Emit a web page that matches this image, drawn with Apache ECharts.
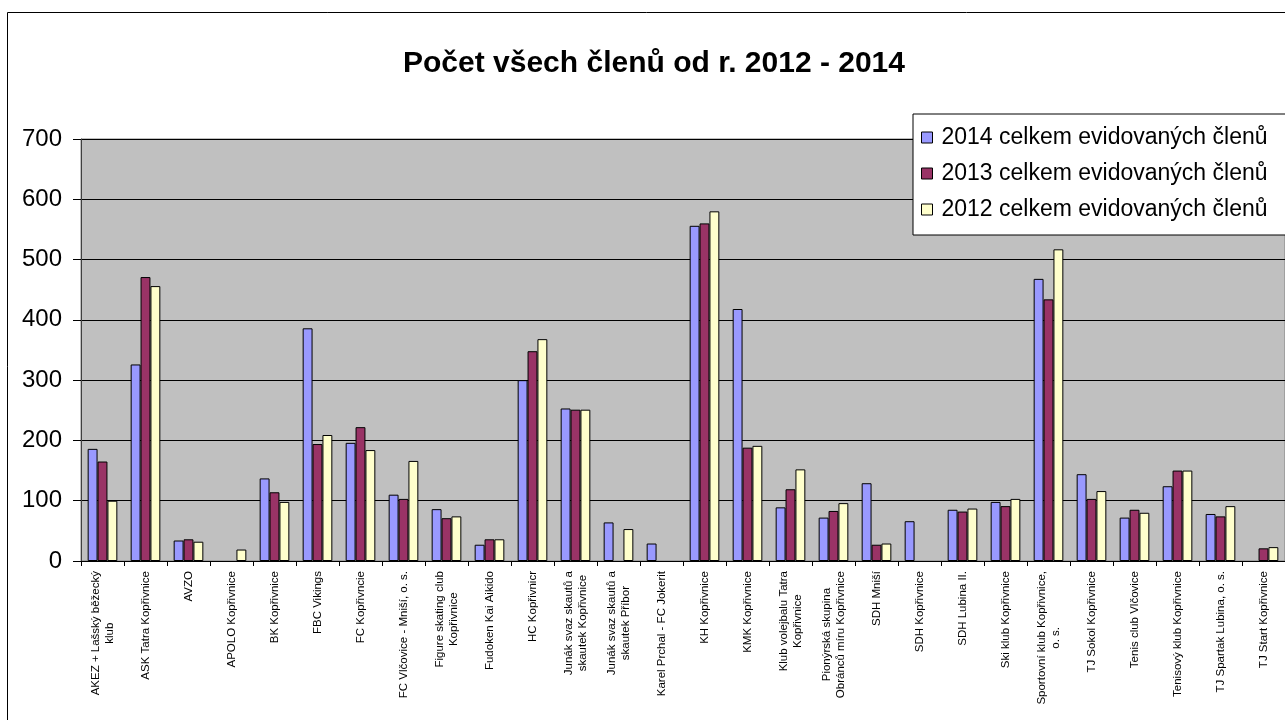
<!DOCTYPE html>
<html>
<head>
<meta charset="utf-8">
<title>Počet všech členů</title>
<script src="https://cdn.jsdelivr.net/npm/echarts@6/dist/echarts.min.js"></script>
<style>
  html, body { margin: 0; padding: 0; background: #fff; }
  #chart { width: 1285px; height: 720px; }
</style>
</head>
<body>
<div id="chart"></div>
<script>
var clubs = [
    'AKEZ + Lašský běžecký\nklub',
    'ASK Tatra Kopřivnice',
    'AVZO',
    'APOLO Kopřivnice',
    'BK Kopřivnice',
    'FBC Vikings',
    'FC Kopřivncie',
    'FC Vlčovice - Mniší, o. s.',
    'Figure skating club\nKopřivnice',
    'Fudoken Kai Aikido',
    'HC Kopřivnicr',
    'Junák svaz skautů a\nskautek Kopřivnice',
    'Junák svaz skautů a\nskautek Příbor',
    'Karel Prchal - FC Jokerit',
    'KH Kopřivnice',
    'KMK Kopřivnice',
    'Klub volejbalu Tatra\nKopřivnice',
    'Pionýrská skupina\nObránců míru Kopřivnice',
    'SDH Mniší',
    'SDH Kopřivnice',
    'SDH Lubina II.',
    'Ski klub Kopřivnice',
    'Sportovní klub Kopřivnice,\no. s.',
    'TJ Sokol Kopřivnice',
    'Tenis club Vlčovice',
    'Tenisový klub Kopřivnice',
    'TJ Spartak Lubina, o. s.',
    'TJ Start Kopřivnice'
];

var members2014 = [186, 326, 34, null, 137, 386, 196, 110, 86, 27, 300, 253, 64, 29, 556, 418, 89, 72, 129, 66, 85, 98, 468, 144, 72, 124, 78, null];
var members2013 = [165, 471, 36, null, 114, 194, 222, 103, 71, 36, 348, 251, null, null, 560, 188, 119, 83, 27, null, 82, 91, 434, 103, 85, 150, 74, 21];
var members2012 = [100, 456, 32, 19, 98, 209, 184, 166, 74, 36, 368, 251, 53, null, 580, 191, 152, 96, 29, null, 87, 103, 517, 116, 80, 150, 91, 23];

var seriesNames = ['2014 celkem evidovaných členů', '2013 celkem evidovaných členů', '2012 celkem evidovaných členů'];
var seriesColors = ['#9999FF', '#993366', '#FFFFCC'];
var yTicks = [0, 100, 200, 300, 400, 500, 600, 700];

var font = 'Arial, "Liberation Sans", sans-serif';

var myChart = echarts.init(document.getElementById('chart'), null, { renderer: 'canvas' });

function barSeries(idx, values) {
    return {
        name: seriesNames[idx],
        type: 'bar',
        data: values,
        barGap: '0%',
        barCategoryGap: '31%',
        itemStyle: {
            color: seriesColors[idx],
            borderColor: '#000',
            borderWidth: 1
        },
        emphasis: { disabled: true }
    };
}

var option = {
    animation: false,
    graphic: [{
        type: 'rect',
        shape: { x: 7.5, y: 12.5, width: 1400, height: 800 },
        style: { fill: null, stroke: '#000', lineWidth: 1 },
        z: -10
    }],
    title: {
        text: 'Počet všech členů od r. 2012 - 2014',
        left: 649,
        top: 44,
        textAlign: 'center',
        textStyle: { fontFamily: font, fontSize: 30, fontWeight: 'bold', color: '#000' }
    },
    legend: {
        orient: 'vertical',
        left: 913,
        top: 114,
        padding: [12, 30, 14, 8],
        itemGap: 13,
        itemWidth: 11,
        itemHeight: 11,
        icon: 'rect',
        backgroundColor: '#fff',
        borderColor: '#000',
        borderWidth: 1,
        selectedMode: false,
        itemStyle: { borderColor: '#000', borderWidth: 1 },
        textStyle: { fontFamily: font, fontSize: 23, color: '#000', padding: [0, 0, 0, 4] },
        data: seriesNames
    },
    grid: {
        show: true,
        left: 81,
        top: 139,
        bottom: 159,
        right: -11,
        backgroundColor: '#C0C0C0',
        borderColor: '#808080',
        borderWidth: 1
    },
    xAxis: {
        type: 'category',
        data: clubs,
        axisLine: { lineStyle: { color: '#000', width: 1 } },
        axisTick: { show: true, length: 5, lineStyle: { color: '#000' } },
        axisLabel: {
            interval: 0,
            rotate: 90,
            margin: 10,
            color: '#000',
            formatter: function (v) {
                return v.split('\n').map(function (s) { return '{c|' + s + '}'; }).join('\n');
            },
            rich: {
                c: { align: 'center', fontFamily: font, fontSize: 11.5, lineHeight: 14, color: '#000' }
            }
        }
    },
    yAxis: {
        type: 'value',
        min: yTicks[0],
        max: yTicks[yTicks.length - 1],
        interval: 100,
        axisLine: { show: true, lineStyle: { color: '#404040', width: 1 } },
        axisTick: { show: true, inside: false, length: 8, lineStyle: { color: '#000' } },
        axisLabel: { margin: 19, fontFamily: font, fontSize: 24, color: '#000' },
        splitLine: { show: true, lineStyle: { color: '#000', width: 1 } }
    },
    series: [
        barSeries(0, members2014),
        barSeries(1, members2013),
        barSeries(2, members2012)
    ]
};

myChart.setOption(option);
window.addEventListener('resize', myChart.resize);
</script>
</body>
</html>
